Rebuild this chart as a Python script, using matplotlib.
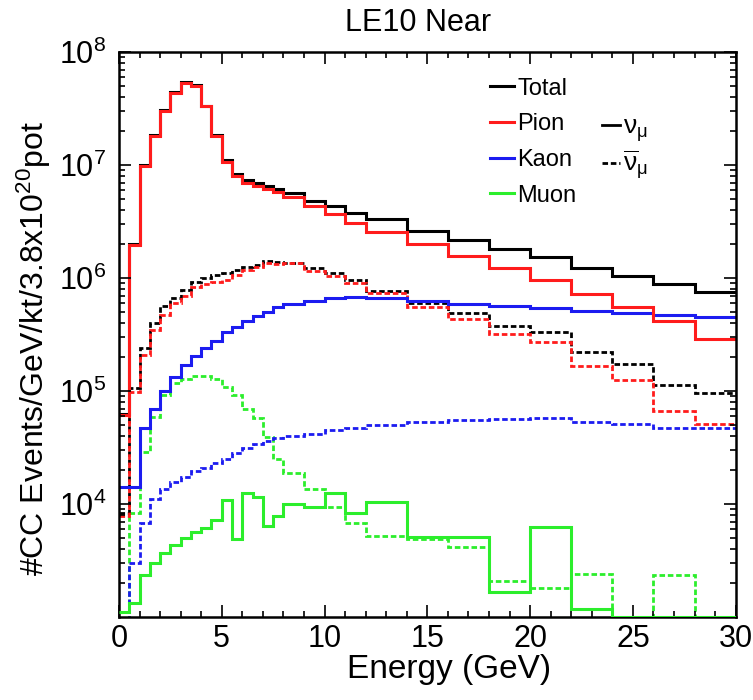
import matplotlib
matplotlib.use("Agg")
import matplotlib.pyplot as plt
from matplotlib.lines import Line2D
from matplotlib.ticker import MultipleLocator, LogLocator, NullFormatter, FixedLocator

plt.rcParams["font.family"] = ["Liberation Sans", "DejaVu Sans"]
plt.rcParams["mathtext.fontset"] = "custom"
plt.rcParams["mathtext.rm"] = "Liberation Sans"
plt.rcParams["mathtext.it"] = "Liberation Sans:italic"
plt.rcParams["mathtext.default"] = "regular"

# bin edges (GeV): 0.5 GeV up to 8, 1 GeV up to 12, 2 GeV up to 30
edges = [0, 0.5, 1.0, 1.5, 2.0, 2.5, 3.0, 3.5, 4.0, 4.5, 5.0, 5.5, 6.0, 6.5, 7.0, 7.5, 8.0,
         9, 10, 11, 12, 14, 16, 18, 20, 22, 24, 26, 28, 30]

# nu_mu (solid)
total_nu = [6.3e4, 2.0e6, 1.0e7, 1.85e7, 3.05e7, 4.4e7, 5.45e7, 5.1e7, 3.35e7, 1.85e7, 1.1e7,
            8.3e6, 7.4e6, 6.9e6, 6.5e6, 6.2e6, 5.7e6, 4.8e6, 4.3e6, 3.8e6,
            3.3e6, 2.6e6, 2.17e6, 1.8e6, 1.52e6, 1.23e6, 1.05e6, 8.8e5, 7.6e5]
pion_nu = [6.1e4, 1.96e6, 9.8e6, 1.8e7, 3.0e7, 4.36e7, 5.35e7, 5.0e7, 3.3e7, 1.8e7, 1.07e7,
           8.0e6, 7.0e6, 6.5e6, 6.1e6, 5.8e6, 5.2e6, 4.3e6, 3.7e6, 3.1e6,
           2.57e6, 2.0e6, 1.57e6, 1.23e6, 9.7e5, 7.2e5, 5.5e5, 4.2e5, 2.9e5]
kaon_nu = [1.4e4, 1.41e4, 4.7e4, 7.0e4, 1.0e5, 1.32e5, 1.7e5, 2.04e5, 2.4e5, 2.8e5, 3.3e5,
           3.7e5, 4.2e5, 4.6e5, 5.0e5, 5.5e5, 5.9e5, 6.3e5, 6.6e5, 6.8e5,
           6.7e5, 6.3e5, 5.9e5, 5.6e5, 5.4e5, 5.1e5, 4.9e5, 4.7e5, 4.5e5]
muon_nu = [1.1e3, 1.32e3, 2.35e3, 3.0e3, 3.7e3, 4.3e3, 5.0e3, 5.6e3, 6.1e3, 7.2e3, 1.08e4,
           4.9e3, 1.24e4, 1.16e4, 6.4e3, 7.8e3, 1.0e4, 9.5e3, 1.26e4, 8.4e3,
           1.05e4, 5.1e3, 5.1e3, 1.67e3, 6.3e3, 1.18e3, 1.0e3, 1.0e3, 1.0e3]

# anti nu_mu (dashed)
total_nubar = [8.3e3, 1.07e5, 2.4e5, 4.0e5, 5.6e5, 6.6e5, 7.8e5, 9.3e5, 1.0e6, 1.06e6, 1.11e6,
               1.18e6, 1.26e6, 1.30e6, 1.42e6, 1.39e6, 1.37e6, 1.22e6, 1.10e6, 9.6e5,
               7.7e5, 6.0e5, 4.9e5, 3.8e5, 3.3e5, 2.2e5, 1.74e5, 1.14e5, 9.6e4]
pion_nubar = [7.8e3, 9.8e4, 2.1e5, 3.5e5, 4.7e5, 6.0e5, 7.0e5, 8.4e5, 8.9e5, 9.3e5, 9.6e5,
              1.06e6, 1.18e6, 1.26e6, 1.37e6, 1.33e6, 1.35e6, 1.16e6, 1.04e6, 9.1e5,
              7.3e5, 5.5e5, 4.3e5, 3.2e5, 2.7e5, 1.66e5, 1.26e5, 6.6e4, 5.1e4]
kaon_nubar = [8e2, 3.0e3, 6.8e3, 1.1e4, 1.35e4, 1.58e4, 1.75e4, 1.94e4, 2.1e4, 2.3e4, 2.5e4,
              2.8e4, 3.1e4, 3.4e4, 3.6e4, 3.8e4, 4.0e4, 4.2e4, 4.5e4, 4.7e4,
              5.0e4, 5.3e4, 5.5e4, 5.6e4, 5.8e4, 5.3e4, 5.1e4, 4.7e4, 4.7e4]
muon_nubar = [8e2, 8.3e3, 2.9e4, 5.9e4, 9.2e4, 1.17e5, 1.28e5, 1.36e5, 1.36e5, 1.27e5, 1.09e5,
              9.2e4, 7.0e4, 5.8e4, 3.9e4, 2.5e4, 1.87e4, 1.37e4, 9.5e3, 6.8e3,
              5.2e3, 4.9e3, 4.2e3, 2.1e3, 1.8e3, 2.4e3, 8e2, 2.35e3, 8e2]

y_major = [1e4, 1e5, 1e6, 1e7, 1e8]

RED = "#ff1c1c"
BLUE = "#1c1cf0"
GREEN = "#2cee2c"
DASH = (0, (2.0, 1.0))

fig = plt.figure(figsize=(7.53, 7.0), dpi=100)
ax = fig.add_axes([0.158, 0.1186, 0.819, 0.807])

lw = 2.2
ax.stairs(muon_nubar, edges, baseline=None, color=GREEN, lw=2.0, ls=DASH)
ax.stairs(kaon_nubar, edges, baseline=None, color=BLUE, lw=2.0, ls=DASH)
ax.stairs(total_nubar, edges, baseline=None, color="black", lw=2.0, ls=DASH)
ax.stairs(pion_nubar, edges, baseline=None, color=RED, lw=2.0, ls=DASH)
ax.stairs(muon_nu, edges, baseline=None, color=GREEN, lw=lw, zorder=3)
ax.stairs(kaon_nu, edges, baseline=None, color=BLUE, lw=lw)
ax.stairs(total_nu, edges, baseline=None, color="black", lw=lw)
ax.stairs(pion_nu, edges, baseline=None, color=RED, lw=lw)

ax.set_yscale("log")
ax.set_xlim(0, 30)
ax.set_ylim(1e3, 1e8)

ax.xaxis.set_major_locator(MultipleLocator(5))
ax.xaxis.set_minor_locator(MultipleLocator(1))
ax.yaxis.set_major_locator(FixedLocator(y_major))
ax.yaxis.set_minor_locator(LogLocator(base=10, subs=range(2, 10), numticks=10))
ax.yaxis.set_minor_formatter(NullFormatter())
ax.tick_params(which="both", direction="in", top=True, right=True, width=1.2)
ax.tick_params(which="major", length=8.5, labelsize=22, pad=5)
ax.tick_params(axis="y", which="major", pad=9)
ax.tick_params(which="minor", length=4.5)
for s in ax.spines.values():
    s.set_linewidth(1.8)

ax.set_xlabel("Energy (GeV)", fontsize=24)
ax.xaxis.set_label_coords(0.536, -0.066)
ax.set_ylabel(r"#CC Events/GeV/kt/3.8x10$^{20}$pot", fontsize=23)
ax.yaxis.set_label_coords(-0.107, 0.475)
ax.set_title("LE10 Near", fontsize=22, pad=15, x=0.485)

h1 = [Line2D([], [], color=c, lw=2.2) for c in ["black", RED, BLUE, GREEN]]
leg1 = ax.legend(h1, ["Total", "Pion", "Kaon", "Muon"], loc="upper left",
                 bbox_to_anchor=(0.601, 0.955), frameon=False, fontsize=17,
                 handlelength=1.05, handletextpad=0.12, labelspacing=0.58,
                 borderpad=0, borderaxespad=0)
ax.add_artist(leg1)

h2 = [Line2D([], [], color="black", lw=2.0),
      Line2D([], [], color="black", lw=2.0, ls=DASH)]
ax.legend(h2, [r"$\nu_{\mu}$", r"$\overline{\nu}_{\mu}$"], loc="upper left",
          bbox_to_anchor=(0.783, 0.889), frameon=False, fontsize=19,
          handlelength=0.7, handletextpad=0.1, labelspacing=0.2,
          borderpad=0, borderaxespad=0)

fig.savefig("out.png", dpi=100)
